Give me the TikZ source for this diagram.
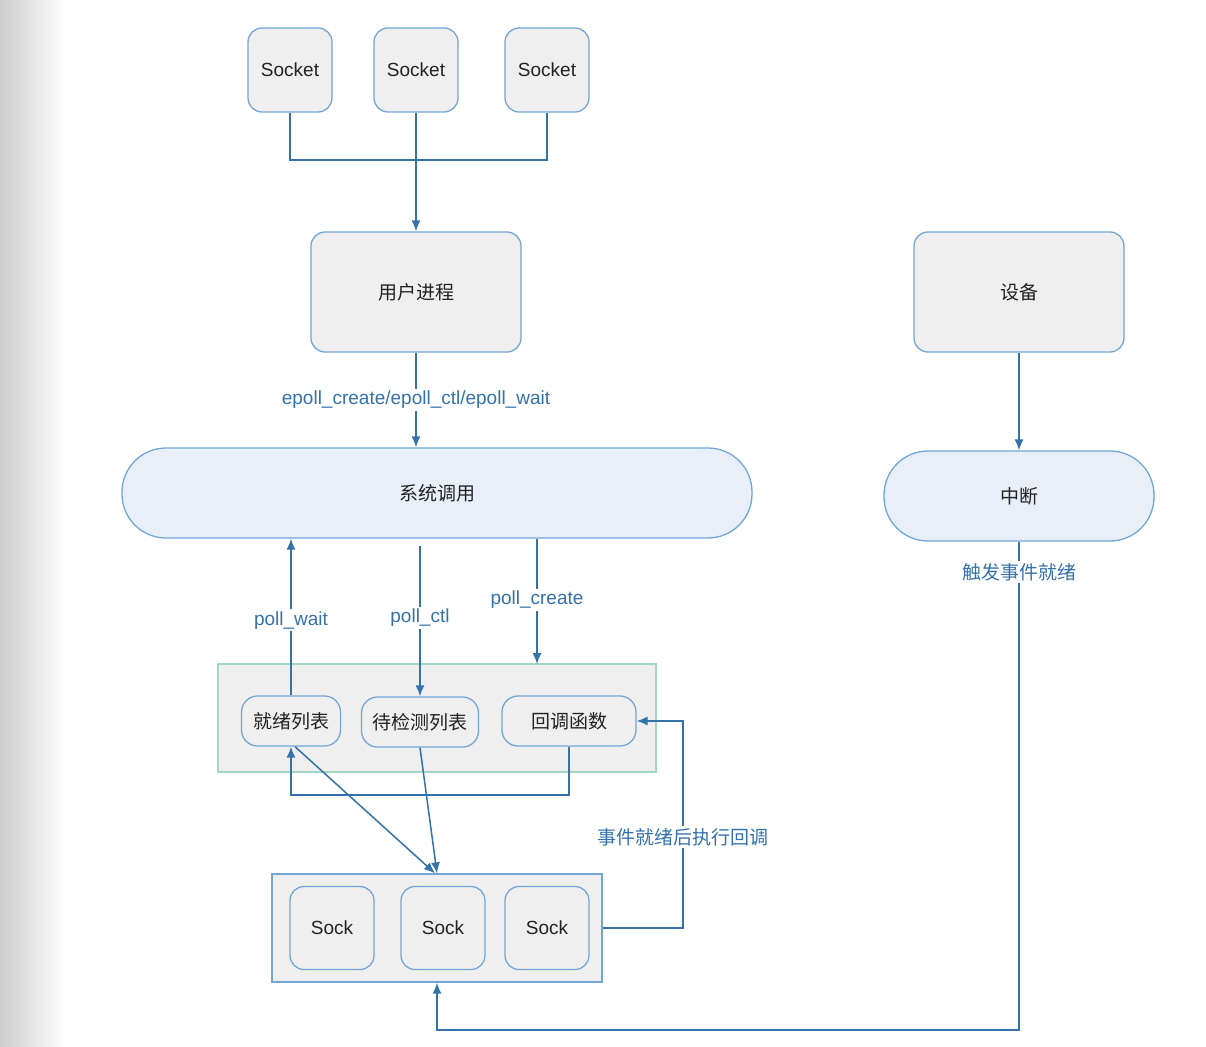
\documentclass[tikz,border=0pt]{standalone}
\usepackage{fontspec}
\setmainfont{Liberation Sans}
\newfontfamily\cjk{Noto Sans CJK SC}
\usetikzlibrary{arrows.meta}

\definecolor{linkblue}{HTML}{3472AA}
\definecolor{edgeblue}{HTML}{72A6D6}
\definecolor{boxgray}{HTML}{EFEFEF}
\definecolor{pillblue}{HTML}{E8EFF9}
\definecolor{tealedge}{HTML}{A3D6C4}
\definecolor{textdark}{HTML}{222222}

\tikzset{
    base/.style={draw=edgeblue, fill=boxgray, line width=1.3pt, text=textdark, align=center},
    sockbox/.style={base, rounded corners=14pt, minimum width=84pt, minimum height=84pt},
    procbox/.style={base, rounded corners=14pt, minimum width=210pt, minimum height=120pt},
    pill/.style={base, fill=pillblue, rounded corners=44pt, minimum height=90pt},
    listbox/.style={base, rounded corners=16pt, minimum height=50pt},
    groupbox/.style={fill=boxgray, line width=1.3pt, minimum height=108pt},
    link/.style={draw=linkblue, line width=1.5pt},
    lbl/.style={fill=white, text=linkblue, inner sep=2pt}
}

\begin{document}
\begin{tikzpicture}[x=1pt,y=-1pt,>={Latex[length=11pt,width=9pt]},
    every node/.style={font=\fontsize{19}{23}\selectfont}]
    \useasboundingbox (0,0) rectangle (1206,1046);

    % Page edge shadow
    \shade[left color={rgb,255:red,205;green,205;blue,205}, right color=white]
        (0,0) rectangle (66,1046);

    % Sockets and user process
    \node[sockbox] (s1) at (290,70) {Socket};
    \node[sockbox] (s2) at (416,70) {Socket};
    \node[sockbox] (s3) at (547,70) {Socket};
    \node[procbox] (proc) at (416,292) {\cjk 用户进程};
    \node[procbox] (dev) at (1019,292) {\cjk 设备};

    % System call and interrupt
    \node[pill, minimum width=630pt] (sys) at (437,493) {\cjk 系统调用};
    \node[pill, minimum width=270pt] (irq) at (1019,496) {\cjk 中断};

    % epoll object
    \node[groupbox, draw=tealedge, minimum width=438pt] (ep) at (437,718) {};
    \node[listbox, minimum width=99pt] (ready) at (291,721) {\cjk 就绪列表};
    \node[listbox, minimum width=117pt] (check) at (420,722) {\cjk 待检测列表};
    \node[listbox, minimum width=134pt] (cb) at (569,721) {\cjk 回调函数};

    % Socks
    \node[groupbox, draw=edgeblue, minimum width=330pt] (socks) at (437,928) {};
    \node[sockbox, minimum height=83pt] (k1) at (332,928) {Sock};
    \node[sockbox, minimum height=83pt] (k2) at (443,928) {Sock};
    \node[sockbox, minimum height=83pt] (k3) at (547,928) {Sock};

    % Turning points
    \coordinate (join) at (416,160);
    \coordinate (pc) at (537,664);
    \coordinate (feed) at (437,795);
    \coordinate (back) at (683,721);
    \coordinate (low) at (1019,1030);

    % Connectors
    \draw[link] (s1.south) |- (join) -| (s3.south);
    \draw[link,->] (s2.south) -- (proc.north);
    \draw[link,->] (proc.south) -- node[lbl] {epoll\_create/epoll\_ctl/epoll\_wait} (sys.north -| proc.south);
    \draw[link,->] (dev.south) -- (irq.north);

    \draw[link,->] (ready.north) -- node[lbl, pos=0.48] {poll\_wait} (sys.south -| ready.north);
    \draw[link,->] ([yshift=-7pt]sys.south -| check.north) -- node[lbl, pos=0.48] {poll\_ctl} (check.north);
    \draw[link,->] (sys.south -| pc) -- node[lbl, pos=0.49] {poll\_create} (pc);

    \draw[link,->] (cb.south) |- (feed) -| (ready.south);
    \draw[link,->] ([xshift=4pt]ready.south) -- ([xshift=-2pt]socks.north);
    \draw[link,->] (check.south) -- (socks.north);

    \draw[link,->] (socks.east) -| node[lbl, pos=0.72] {\cjk 事件就绪后执行回调} (back) -- (cb.east);
    \draw[link,->] (irq.south) -- node[lbl, pos=0.062] {\cjk 触发事件就绪} (low) -| (socks.south);
\end{tikzpicture}
\end{document}
